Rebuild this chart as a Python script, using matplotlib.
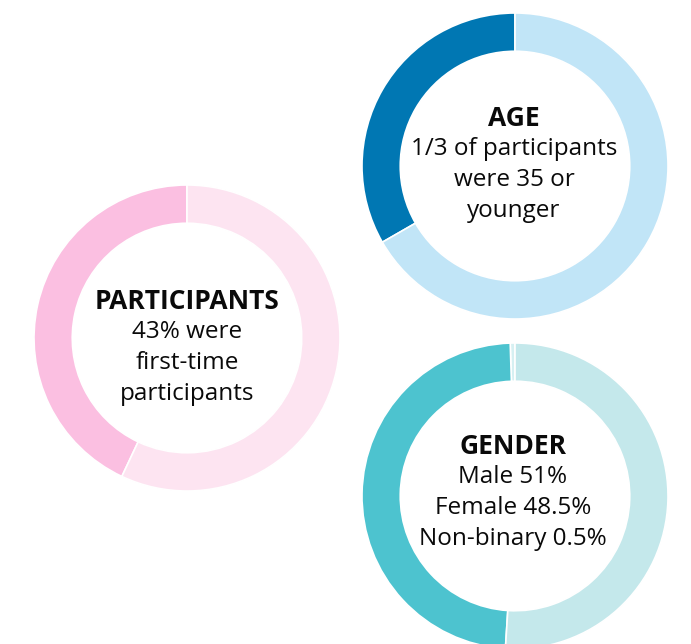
import matplotlib
matplotlib.use("Agg")
import matplotlib.pyplot as plt

W, H = 691, 644

# Data
age_labels = ["35 or younger", "Older than 35"]
age_values = [33.3, 66.7]
participant_labels = ["First-time", "Returning"]
participant_values = [43, 57]
gender_labels = ["Non-binary", "Female", "Male"]
gender_values = [0.5, 48.5, 51]

age_colors = ["#0077B3", "#C1E5F7"]
participant_colors = ["#FBBFE1", "#FDE4F1"]
gender_colors = ["#D6F0F2", "#4DC3CF", "#C4E8EB"]

plt.rcParams['font.family'] = ['Open Sans', 'DejaVu Sans']

fig = plt.figure(figsize=(W / 100, H / 100), dpi=100)
ax = fig.add_axes([0, 0, 1, 1])

R = 153
ring = 0.25

def donut(values, colors, cx, cy_img):
    ax.pie(values, colors=colors, startangle=90, counterclock=True,
           center=(cx, H - cy_img), radius=R, frame=True,
           wedgeprops=dict(width=R * ring, edgecolor='white', linewidth=1.2))

donut(age_values, age_colors, 515, 166)
donut(participant_values, participant_colors, 187, 338)
donut(gender_values, gender_colors, 515, 496)

ax.set_xlim(0, W)
ax.set_ylim(0, H)
ax.set_aspect('equal')
ax.axis('off')

def block(cx, title, lines, y_title):
    ax.text(cx, H - y_title, title, ha='center', va='center', fontsize=19,
            fontweight='bold', color='#0a0a0a')
    for i, ln in enumerate(lines):
        ax.text(cx, H - (y_title + 31 * (i + 1)), ln, ha='center', va='center',
                fontsize=17.5, color='#0a0a0a')

block(514, "AGE", ["1/3 of participants", "were 35 or", "younger"], 118)
block(187, "PARTICIPANTS", ["43% were", "first-time", "participants"], 301)
block(513, "GENDER", ["Male 51%", "Female 48.5%", "Non-binary 0.5%"], 446)

fig.savefig("out.png", dpi=100)
